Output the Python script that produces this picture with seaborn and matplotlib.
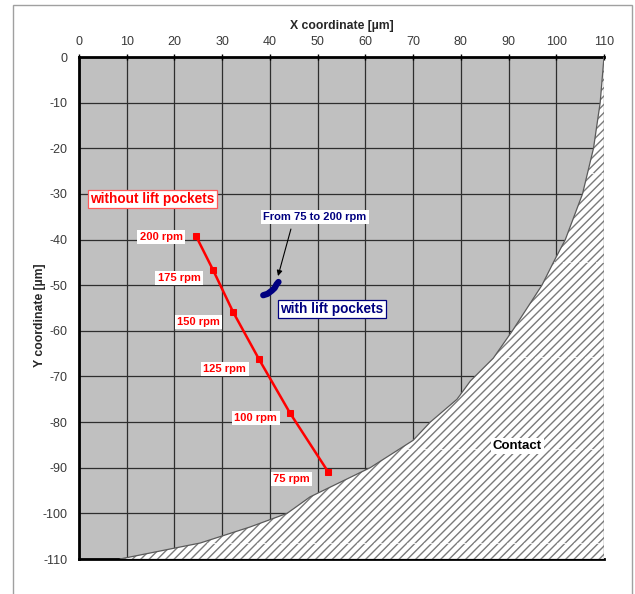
import matplotlib
matplotlib.use("Agg")
import matplotlib.pyplot as plt
from matplotlib import font_manager
from matplotlib.patches import Rectangle
import pandas as pd
import seaborn as sns

# Shaft centre trajectory without lift pockets (75 -> 200 rpm)
speeds = [75, 100, 125, 150, 175, 200]
x_without = [52.2, 44.2, 37.7, 32.3, 28.1, 24.5]
y_without = [-90.9, -78.0, -66.2, -55.9, -46.7, -39.2]

# Shaft centre trajectory with lift pockets (75 -> 200 rpm)
x_with = [38.6, 39.5, 40.4, 41.0, 41.4, 41.8]
y_with = [-52.2, -51.9, -51.2, -50.6, -49.8, -49.3]

# Boundary of the contact zone
x_contact = [110, 109.2, 107.8, 105.5, 101.9, 99.4, 97.0, 90.8, 86.8, 82.0,
             79.2, 73.6, 70.0, 61.0, 48.4, 43.6, 35.8, 25.4, 20.1, 8.6]
y_contact = [0, -10, -20, -30, -40, -45, -50, -60, -66, -71,
             -75, -80, -84, -90, -96.4, -100, -103, -106.5, -107.6, -110]

x_ticks = list(range(0, 111, 10))
y_ticks = list(range(-110, 1, 10))

rpm_labels = [f"{s} rpm" for s in speeds]
# label offsets (points) from each marker
label_offsets = [(-26.5, -5.0), (-24.5, -3.6), (-24.5, -7.2),
                 (-25.0, -7.2), (-24.5, -5.8), (-25.0, -0.7)]

sns.set_style("white")
plt.rcParams["font.family"] = ["Liberation Sans", "DejaVu Sans"]
plt.rcParams["axes.unicode_minus"] = False
names = {f.name for f in font_manager.fontManager.ttflist}
tick_family = ["Liberation Sans Narrow"] if "Liberation Sans Narrow" in names else ["Liberation Sans"]

fig = plt.figure(figsize=(6.35, 5.94), dpi=100)
ax = fig.add_axes([79 / 635, 1 - 559 / 594, 525 / 635, 502 / 594])
ax.set_facecolor("#c0c0c0")

df_without = pd.DataFrame({"x": x_without, "y": y_without, "rpm": speeds})
df_with = pd.DataFrame({"x": x_with, "y": y_with})
df_contact = pd.DataFrame({"x": x_contact, "y": y_contact})

# contact zone (hatched)
poly = ax.fill(x_contact + [110], y_contact + [-110], facecolor="white",
               edgecolor="#7a7a7a", hatch="////", linewidth=0.0, zorder=3)[0]
for yy in [-25.4, -45.0, -65.7, -86.0, -106.5]:
    ln = ax.axhline(yy, color="white", lw=0.8, ls=(0, (3, 2)), alpha=0.8, zorder=3.2)
    ln.set_clip_path(poly)
sns.lineplot(data=df_contact, x="x", y="y", sort=False, color="#5a5a5a",
             lw=0.9, ax=ax, zorder=3.5)
ax.plot([110, 110], [-110, 0], color="#7a7a7a", lw=1.0, zorder=3.5)
ax.plot([8.6, 110], [-110, -110], color="#7a7a7a", lw=1.0, zorder=3.5)

# trajectories
sns.lineplot(data=df_without, x="x", y="y", sort=False, color="red", lw=1.8,
             marker="s", markersize=5, markeredgecolor="red", ax=ax, zorder=5)
sns.lineplot(data=df_with, x="x", y="y", sort=False, color="#000080", lw=4.5,
             solid_capstyle="round", ax=ax, zorder=5)

for xv, yv, lab, off in zip(x_without, y_without, rpm_labels, label_offsets):
    ax.annotate(lab, (xv, yv), xytext=off, textcoords="offset points",
                ha="center", va="center", color="red", fontsize=8,
                fontweight="bold", zorder=6,
                bbox=dict(boxstyle="square,pad=0.2", fc="white", ec="none"))

ax.text(15.4, -31.2, "without lift pockets", color="red", fontsize=9.8,
        fontweight="bold", ha="center", va="center", zorder=6,
        bbox=dict(boxstyle="square,pad=0.15", fc="white", ec="#ff5a5a", lw=0.9))
ax.text(53.0, -55.2, "with lift pockets", color="#000080", fontsize=9.8,
        fontweight="bold", ha="center", va="center", zorder=6,
        bbox=dict(boxstyle="square,pad=0.15", fc="white", ec="#000080", lw=0.9))
ax.text(49.4, -35.1, "From 75 to 200 rpm", color="#000080", fontsize=8,
        fontweight="bold", ha="center", va="center", zorder=6,
        bbox=dict(boxstyle="square,pad=0.2", fc="white", ec="none"))
ax.annotate("", xy=(41.7, -48.0), xytext=(44.4, -37.7),
            arrowprops=dict(arrowstyle="-|>", color="black", lw=0.8,
                            mutation_scale=8, shrinkA=0, shrinkB=0), zorder=6)
ax.text(91.8, -85.2, "Contact", color="black", fontsize=9.5, fontweight="bold",
        ha="center", va="center", zorder=6,
        bbox=dict(boxstyle="square,pad=0.15", fc="white", ec="none"))

ax.set_xlim(0, 110)
ax.set_ylim(-110, 0)
ax.set_xticks(x_ticks)
ax.set_yticks(y_ticks)
ax.grid(True, color="#2e2e2e", lw=0.9)
ax.set_axisbelow(True)
ax.xaxis.tick_top()
ax.xaxis.set_label_position("top")
ax.tick_params(axis="both", direction="inout", length=5, width=1.0,
               color="black", labelcolor="#3a3a3a", labelsize=9)
ax.tick_params(axis="x", pad=3.8)
ax.tick_params(axis="y", pad=6)
for lab in ax.get_xticklabels() + ax.get_yticklabels():
    lab.set_family(tick_family)

for side in ["left", "top", "bottom"]:
    ax.spines[side].set_color("black")
    ax.spines[side].set_linewidth(2.0)
ax.spines["right"].set_visible(False)

ax.set_xlabel("X coordinate [µm]", fontsize=8.8, fontweight="bold", labelpad=5.5)
ax.set_ylabel("Y coordinate [µm]", fontsize=8.8, fontweight="bold")
ax.yaxis.set_label_coords(-0.062, 0.485)

fig.patches.append(Rectangle((13 / 635, -0.02), 619 / 635, 1.0116, transform=fig.transFigure,
                             fill=False, edgecolor="#a0a0a0", lw=1.0))

fig.savefig("out.png", dpi=100, facecolor="white")
